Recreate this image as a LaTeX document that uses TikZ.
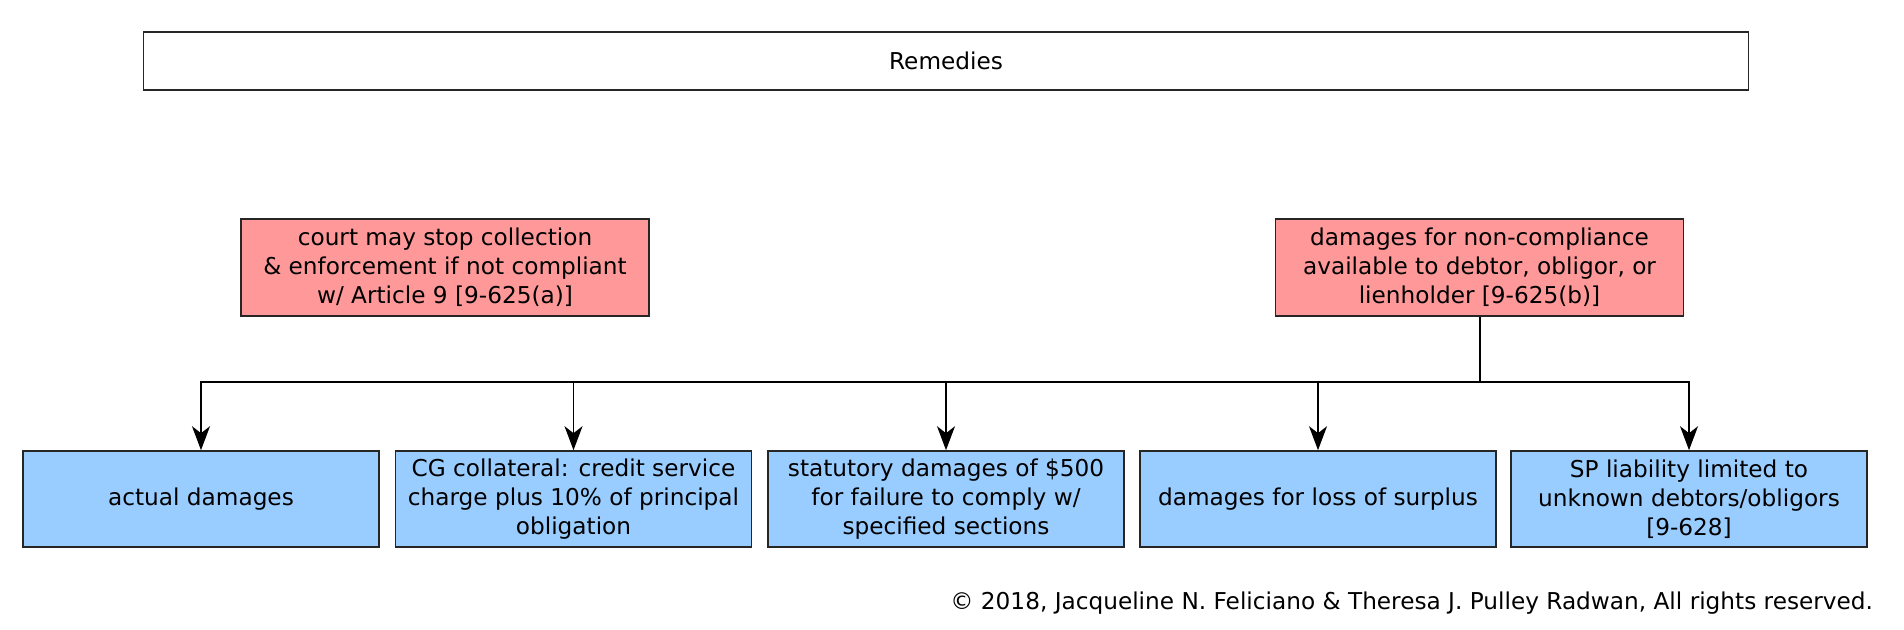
\documentclass[tikz,border=0pt]{standalone}
\usepackage{fontspec}
\setmainfont{DejaVu Sans}
\usetikzlibrary{arrows.meta}
\definecolor{cpink}{HTML}{FF9999}
\definecolor{cblue}{HTML}{99CCFF}
\tikzset{
  box/.style={draw=black!85, line width=0.8pt, align=center, inner sep=0pt,
    font=\fontsize{11.6}{14.6}\selectfont},
  topbox/.style={box, fill=white, minimum width=802.5pt, minimum height=29pt},
  redbox/.style={box, fill=cpink, minimum width=204pt, minimum height=48.5pt},
  bluebox/.style={box, fill=cblue, minimum width=178pt, minimum height=48pt},
  arr/.style={-{Stealth[length=12pt,width=9pt,inset=3.5pt]}, line width=0.8pt}
}
\begin{document}
\begin{tikzpicture}[x=0.5pt,y=-0.5pt]
    \useasboundingbox (0,0) rectangle (1904,630);

    \node [topbox] (remedies) at (946,61) {Remedies};

    \node [redbox] (court) at (445,267.5) {court may stop collection\\
      \& enforcement if not compliant\\ w/ Article 9 [9-625(a)]};
    \node [redbox] (noncomp) at (1479.5,267.5) {damages for non-compliance\\
      available to debtor, obligor, or\\ lienholder [9-625(b)]};

    \node [bluebox] (actual) at (201,499) {actual damages};
    \node [bluebox] (cg) at (573.5,499) {CG collateral: credit service\\
      charge plus 10\% of principal\\ obligation};
    \node [bluebox] (statutory) at (946,499) {statutory damages of \$500\\
      for failure to comply w/\\ specified sections};
    \node [bluebox] (surplus) at (1318,499) {damages for loss of surplus};
    \node [bluebox] (liability) at (1689,499) {SP liability limited to\\
      unknown debtors/obligors\\ {[9-628]}};

    \coordinate (bus) at (1479.5,382);
    \draw [line width=1pt] (noncomp.south) -- (bus);
    \foreach \n in {actual,cg,statutory,surplus,liability}
      \draw [arr] (bus) -| (\n.north);

    \node [anchor=east, font=\fontsize{11.6}{14.6}\selectfont] (copy) at (1880,603)
      {© 2018, Jacqueline N. Feliciano \& Theresa J. Pulley Radwan, All rights reserved.};
  \end{tikzpicture}
\end{document}
